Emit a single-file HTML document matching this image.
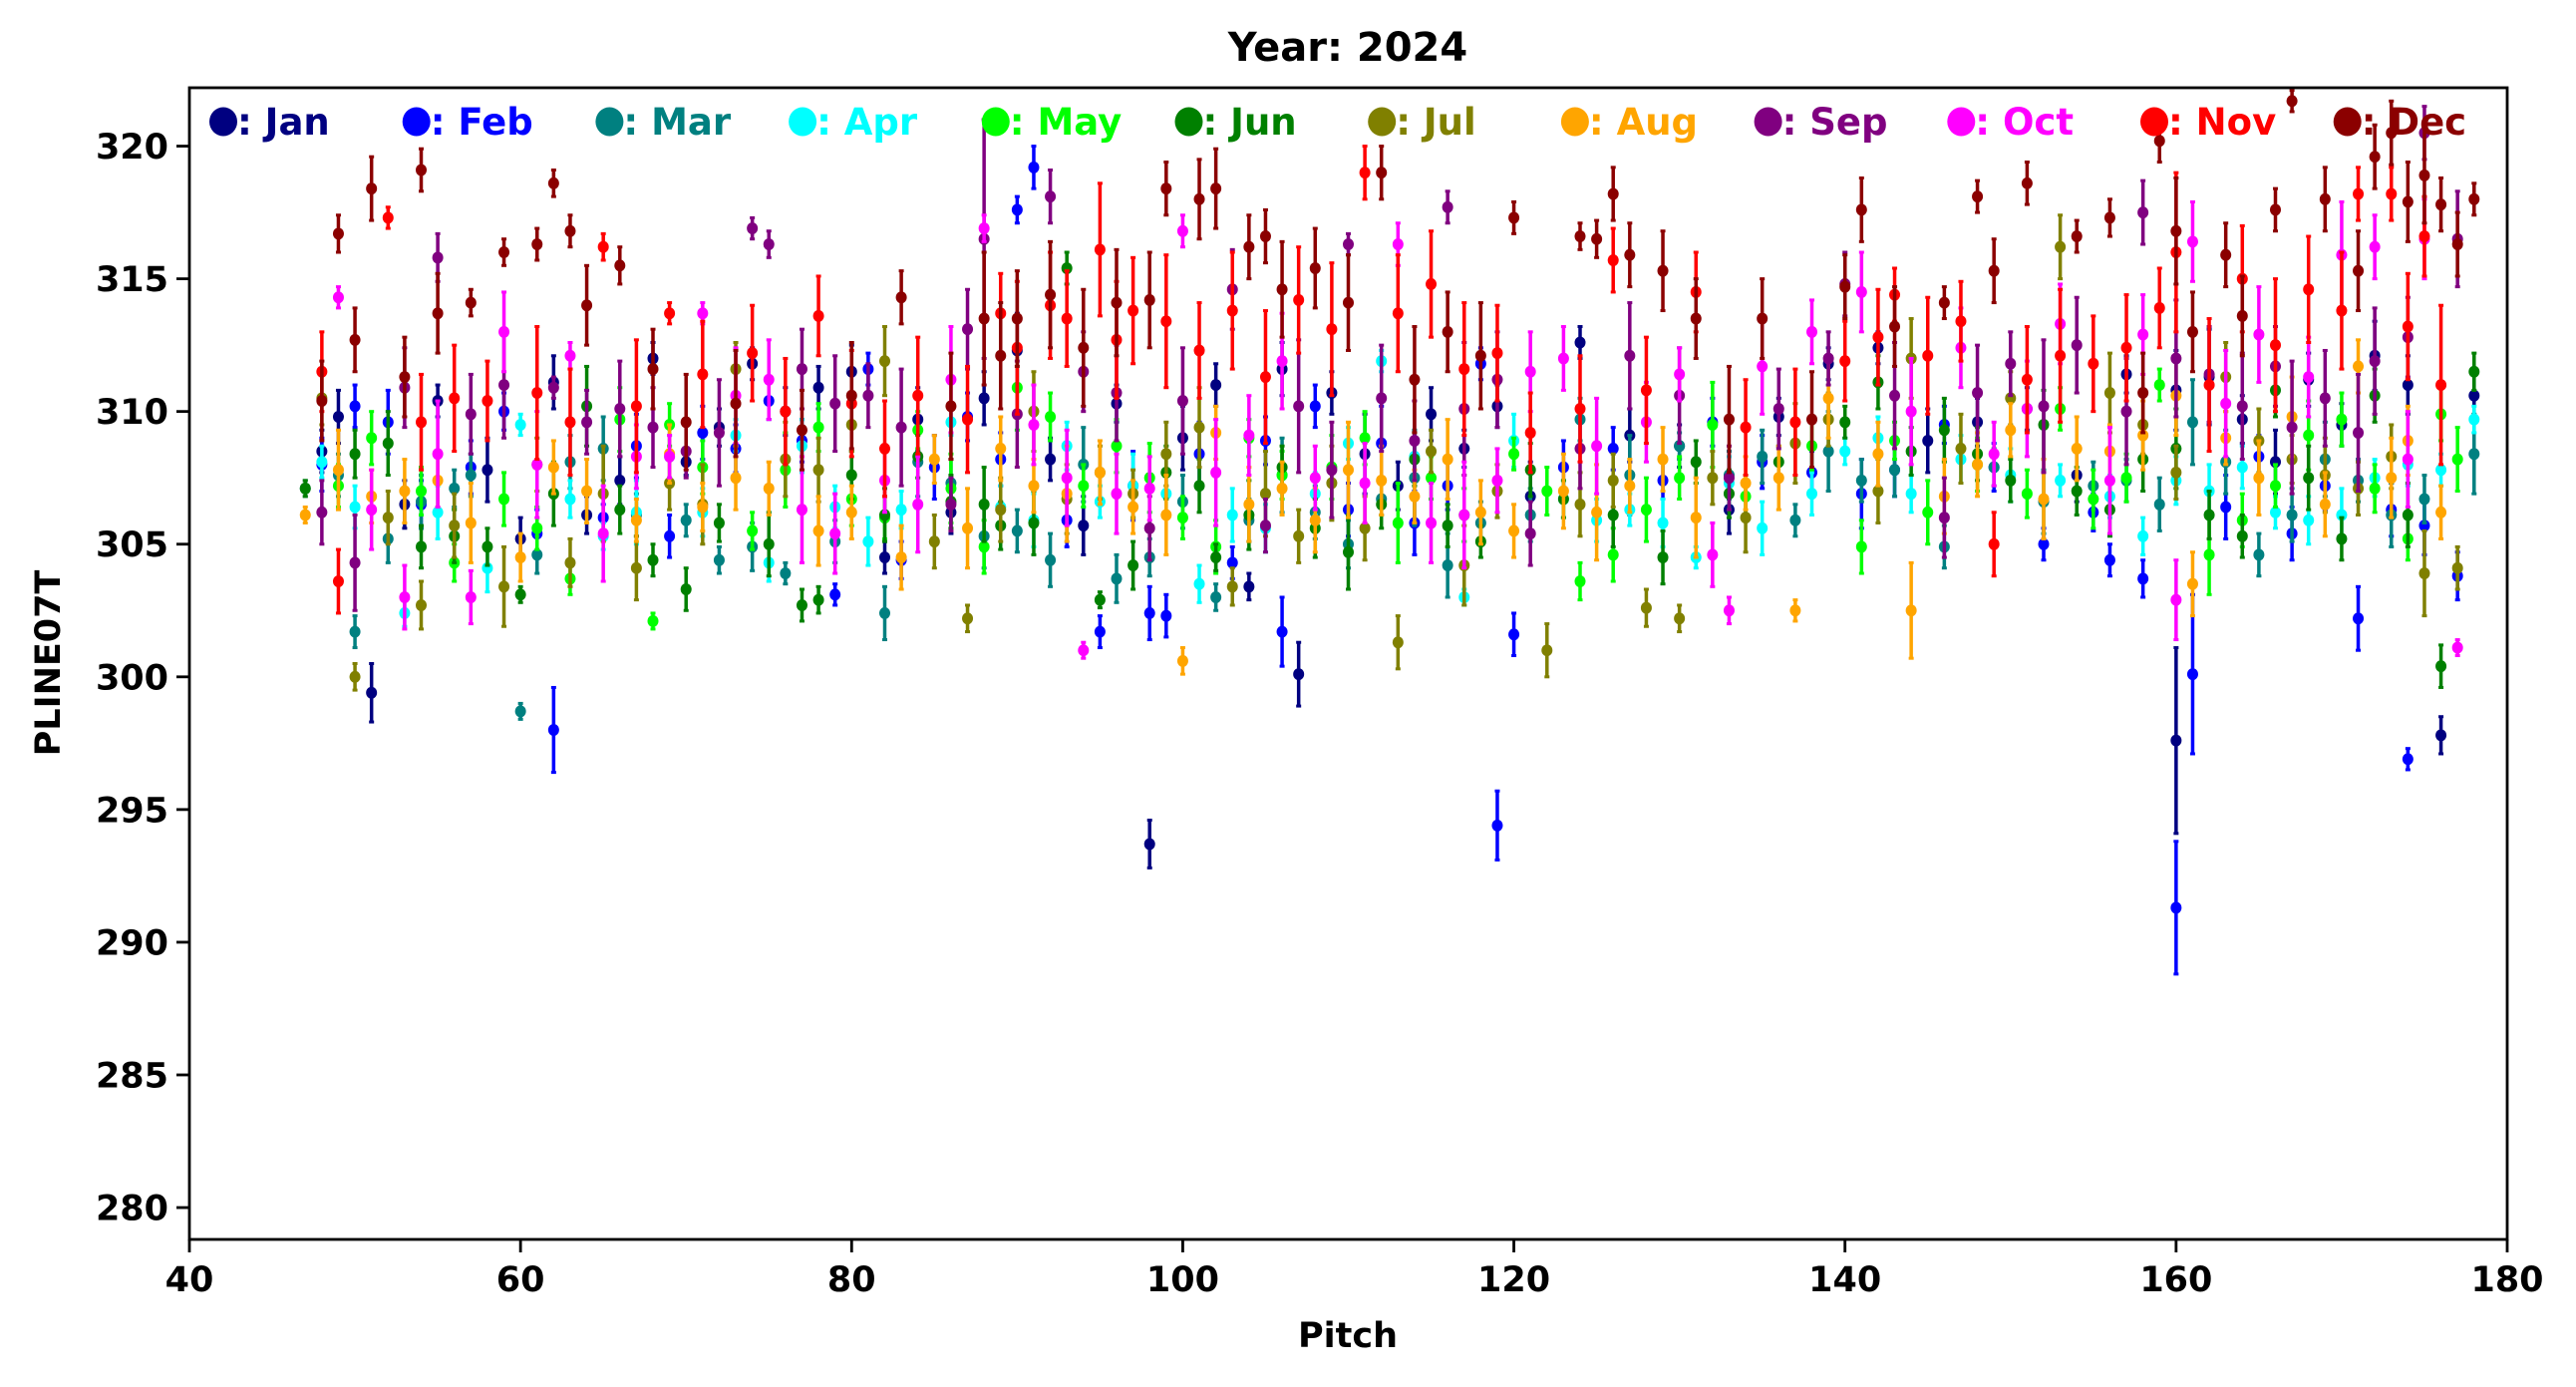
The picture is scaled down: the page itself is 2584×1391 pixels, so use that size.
<!DOCTYPE html>
<html><head><meta charset="utf-8">
<style>
html,body{margin:0;padding:0;background:#fff;}
svg{display:block;font-family:"DejaVu Sans","Liberation Sans",sans-serif;font-weight:bold;}
</style></head>
<body>
<svg id="chart" width="2584" height="1391" viewBox="0 0 2584 1391" xmlns="http://www.w3.org/2000/svg">
<rect x="0" y="0" width="2584" height="1391" fill="#fff"/>
<text x="1352" y="61" text-anchor="middle" font-size="40">Year: 2024</text>
<g id="marks"></g>
<g id="axes"></g>
<g id="legend"></g>
<text x="1352" y="1351" text-anchor="middle" font-size="35">Pitch</text>
<text transform="translate(60,665) rotate(-90)" text-anchor="middle" font-size="35">PLINE07T</text>
</svg>
<script>
const months=["Jan","Feb","Mar","Apr","May","Jun","Jul","Aug","Sep","Oct","Nov","Dec"];
const colors=["#000080","#0000ff","#008080","#00ffff","#00ff00","#008000","#808000","#ffa500","#800080","#ff00ff","#ff0000","#8b0000"];
const xTicks=[40,60,80,100,120,140,160,180];
const yTicks=[280,285,290,295,300,305,310,315,320];

const janX=[48,49,51,53,55,58,60,62,64,66,68,70,72,74,76,78,80,82,84,86,88,90,92,94,96,98,100,102,104,106,107,109,111,113,115,117,119,121,124,127,130,133,136,139,142,145,148,151,154,157,160,160,162,164,166,168,170,172,174,176,178];
const janY=[308.5,309.8,299.4,306.5,310.4,307.8,305.2,311.1,306.1,307.4,312.0,308.1,309.4,311.8,310.0,310.9,311.5,304.5,309.7,306.2,310.5,312.3,308.2,305.7,310.3,293.7,309.0,311.0,303.4,311.6,300.1,310.7,308.4,307.2,309.9,308.6,310.2,306.8,312.6,309.1,308.7,306.3,309.8,311.8,312.4,308.9,309.6,310.1,307.6,311.4,297.6,310.8,311.3,309.7,308.1,311.2,309.5,312.1,311.0,297.8,310.6];
const janE=[0.8,1.0,1.1,0.9,0.6,1.2,0.8,1.0,0.7,0.9,0.6,0.5,0.7,0.6,0.9,0.8,1.0,0.6,1.2,0.8,1.0,1.4,0.8,1.1,0.7,0.9,1.2,0.8,0.5,1.0,1.2,0.8,1.5,0.9,1.0,0.7,0.8,1.3,0.6,1.0,0.8,0.9,0.7,0.6,0.6,1.2,0.9,0.8,1.0,0.7,3.5,1.5,1.8,0.9,1.2,1.0,0.8,1.3,1.1,0.7,0.8];
const febX=[48,50,52,54,57,59,61,62,65,67,69,71,73,75,77,79,81,83,85,87,89,90,91,93,95,97,98,99,101,103,105,106,108,110,112,114,116,118,119,120,123,126,129,132,135,138,141,143,146,149,152,155,156,158,160,161,163,165,167,169,171,173,174,175,177];
const febY=[308.0,310.2,309.6,306.5,307.9,310.0,305.4,298.0,306.0,308.7,305.3,309.2,308.6,310.4,308.9,303.1,311.6,304.4,307.9,309.8,308.2,317.6,319.2,305.9,301.7,307.2,302.4,302.3,308.4,304.3,308.9,301.7,310.2,306.3,308.8,305.8,307.2,311.8,294.4,301.6,307.9,308.6,307.4,309.6,308.1,307.7,306.9,307.8,309.5,307.9,305.0,306.2,304.4,303.7,291.3,300.1,306.4,308.3,305.4,307.2,302.2,306.3,296.9,305.7,303.8];
const febE=[1.0,0.8,1.2,0.9,1.0,0.7,0.9,1.6,0.5,1.2,0.8,1.0,0.9,0.7,0.8,0.4,0.6,0.7,1.2,0.9,1.0,0.5,0.8,1.0,0.6,1.3,1.0,0.8,1.2,0.6,0.9,1.3,0.8,1.0,1.4,1.2,0.9,0.6,1.3,0.8,1.0,0.8,0.7,0.9,1.0,0.8,1.3,1.0,0.7,0.9,0.6,0.7,0.6,0.7,2.5,3.0,1.2,0.8,1.0,0.9,1.2,1.0,0.4,1.1,0.9];
const marX=[47,49,50,52,54,56,57,60,61,63,65,67,70,72,74,76,79,82,84,86,88,90,92,94,96,98,100,102,104,106,108,110,112,114,116,118,121,124,127,130,133,135,137,139,141,143,146,149,152,155,157,159,161,163,165,167,169,171,173,175,178];
const marY=[307.1,307.6,301.7,305.2,306.6,307.1,307.6,298.7,304.6,308.1,308.6,306.1,305.9,304.4,304.9,303.9,305.1,302.4,308.1,307.3,305.3,305.5,304.4,308.0,303.7,304.5,306.6,303.0,305.9,307.6,306.2,305.0,306.7,307.5,304.2,305.8,306.1,309.7,307.6,308.7,307.6,308.3,305.9,308.5,307.4,307.8,304.9,307.9,306.6,307.2,307.4,306.5,309.6,308.1,304.6,306.1,308.2,307.4,306.1,306.7,308.4];
const marE=[0.3,0.8,0.6,0.9,1.0,0.7,0.8,0.3,0.7,1.0,1.2,0.8,0.6,0.5,0.9,0.4,0.8,1.0,1.3,0.9,1.2,0.8,1.0,1.4,0.9,0.7,1.0,0.5,0.8,1.4,1.0,0.9,0.6,1.8,1.2,0.8,1.0,0.8,1.5,0.5,0.9,1.0,0.6,1.5,0.8,1.0,0.8,0.7,1.2,0.9,0.8,1.0,1.6,1.2,0.8,1.0,1.4,0.8,1.2,0.9,1.5];
const aprX=[48,50,53,55,58,60,63,65,67,69,71,73,75,77,79,81,83,86,89,91,93,95,97,99,101,103,105,108,110,112,114,117,120,123,125,127,129,131,133,135,138,140,142,144,147,150,153,156,158,160,162,164,166,168,170,172,174,176,178];
const aprY=[308.1,306.4,302.4,306.2,304.1,309.5,306.7,305.3,306.2,308.3,306.2,309.1,304.3,308.7,306.4,305.1,306.3,309.6,306.4,305.9,308.7,306.6,307.2,306.9,303.5,306.1,305.6,306.9,308.8,311.9,308.3,303.0,308.9,306.7,305.9,306.3,305.8,304.5,307.3,305.6,306.9,308.5,309.0,306.9,308.2,307.6,307.4,306.8,305.3,307.4,307.0,307.9,306.2,305.9,306.1,307.5,308.0,307.8,309.7];
const aprE=[0.6,0.8,0.5,1.0,0.9,0.4,0.7,0.5,1.2,0.8,0.9,0.6,0.7,1.0,0.8,0.9,0.7,0.5,0.8,1.0,0.9,0.6,1.2,0.8,0.7,1.0,0.9,0.8,0.6,0.4,0.9,0.3,1.0,0.7,0.8,0.6,0.9,0.4,1.0,1.0,0.8,0.5,0.8,0.7,0.9,1.0,0.6,0.8,0.7,0.9,1.0,0.8,0.6,0.9,1.0,0.7,0.8,0.6,0.5];
const mayX=[49,51,54,56,59,61,63,66,68,69,71,74,76,78,80,82,84,86,88,90,92,94,96,98,100,102,104,106,109,111,113,115,117,120,122,124,126,128,130,132,134,138,141,143,145,148,151,153,155,157,159,162,164,166,168,170,172,174,176,177];
const mayY=[307.2,309.0,307.0,304.3,306.7,305.6,303.7,309.7,302.1,309.5,307.9,305.5,307.8,309.4,306.7,306.0,309.3,307.1,304.9,310.9,309.8,307.2,308.7,307.5,306.0,304.9,309.0,307.6,307.9,309.0,305.8,307.5,306.1,308.4,307.0,303.6,304.6,306.3,307.5,309.5,306.8,308.7,304.9,308.9,306.2,308.0,306.9,310.1,306.7,307.5,311.0,304.6,305.9,307.2,309.1,309.7,307.1,305.2,309.9,308.2];
const mayE=[0.8,1.0,0.9,0.7,1.0,0.8,0.6,1.2,0.3,0.8,1.0,0.7,1.4,0.9,1.0,0.8,0.7,1.3,1.0,1.6,0.9,0.8,1.0,1.3,0.8,1.0,0.7,0.9,1.2,1.0,1.5,0.8,1.0,0.6,0.9,0.7,1.0,1.2,0.8,1.6,0.8,0.9,1.0,0.7,1.2,1.0,0.9,0.8,1.1,0.9,0.6,1.5,1.0,0.8,1.3,1.0,0.9,0.8,1.0,1.2];
const junX=[47,50,52,54,56,58,60,62,64,66,68,70,72,75,77,78,80,82,84,86,88,89,91,93,95,97,99,101,102,104,106,108,110,112,114,116,118,121,123,126,129,131,133,136,140,142,144,146,148,150,152,154,156,158,160,162,164,166,168,170,172,174,176,178];
const junY=[307.1,308.4,308.8,304.9,305.3,304.9,303.1,306.9,310.2,306.3,304.4,303.3,305.8,305.0,302.7,302.9,307.6,306.1,308.3,306.6,306.5,305.7,305.8,315.4,302.9,304.2,307.7,307.2,304.5,306.1,307.9,305.6,304.7,306.5,308.2,305.7,305.1,307.8,306.7,306.1,304.5,308.1,306.9,308.1,309.6,311.1,308.5,309.3,308.4,307.4,309.5,307.0,306.3,308.2,308.6,306.1,305.3,310.8,307.5,305.2,310.6,306.1,300.4,311.5];
const junE=[0.3,0.9,1.2,0.8,1.0,0.7,0.3,1.2,1.5,0.9,0.6,0.8,0.7,1.2,0.6,0.5,0.9,1.0,0.8,1.0,1.4,0.9,1.2,0.6,0.3,0.9,1.0,1.0,0.5,1.3,0.8,1.1,1.4,0.9,1.0,0.8,0.6,1.0,0.7,1.2,1.0,0.8,0.9,0.6,0.6,1.0,0.9,1.2,1.0,0.8,1.3,0.9,1.0,1.2,1.5,0.9,0.8,1.0,1.2,0.8,1.0,1.2,0.8,0.7];
const julX=[48,50,52,54,56,59,61,63,65,67,69,71,73,76,78,80,82,85,87,89,91,93,95,97,99,101,103,105,107,109,111,113,115,117,119,122,124,126,128,130,132,134,137,139,142,144,147,150,153,156,158,160,163,165,167,169,171,173,175,177];
const julY=[310.5,300.0,306.0,302.7,305.7,303.4,308.0,304.3,306.9,304.1,307.3,306.5,311.6,308.2,307.8,309.5,311.9,305.1,302.2,306.3,310.0,306.7,307.7,306.9,308.4,309.4,303.4,306.9,305.3,307.3,305.6,301.3,308.5,304.2,307.0,301.0,306.5,307.4,302.6,302.2,307.5,306.0,308.8,309.7,307.0,312.0,308.6,310.5,316.2,310.7,309.5,307.7,311.3,308.9,308.2,307.6,307.1,308.3,303.9,304.1];
const julE=[1.0,0.5,1.0,0.9,1.2,1.5,1.0,0.9,1.8,1.2,1.0,1.5,1.0,1.4,1.2,1.0,1.3,1.0,0.5,1.2,1.5,1.3,1.0,0.9,1.2,1.5,0.7,1.6,1.0,1.4,1.2,1.0,0.8,1.5,1.0,1.0,1.2,1.0,0.7,0.5,1.0,1.3,1.5,1.0,1.2,1.5,1.3,1.0,1.2,1.5,1.1,1.0,1.3,1.2,0.9,1.4,1.0,1.2,1.6,0.8];
const augX=[47,49,51,53,55,57,60,62,64,67,69,71,73,75,78,80,83,85,87,89,91,93,95,97,99,100,102,104,106,108,110,112,114,116,118,120,123,125,127,129,131,134,136,137,139,142,144,146,148,150,152,154,156,158,160,161,163,165,167,169,171,173,174,176];
const augY=[306.1,307.8,306.8,307.0,307.4,305.8,304.5,307.9,307.0,305.9,308.4,306.4,307.5,307.1,305.5,306.2,304.5,308.2,305.6,308.6,307.2,306.9,307.7,306.4,306.1,300.6,309.2,306.5,307.1,305.9,307.8,307.4,306.8,308.2,306.2,305.5,307.0,306.2,307.2,308.2,306.0,307.3,307.5,302.5,310.5,308.4,302.5,306.8,308.0,309.3,306.7,308.6,308.5,309.1,310.6,303.5,309.0,307.5,309.8,306.5,311.7,307.5,308.9,306.2];
const augE=[0.3,1.5,1.0,1.2,1.0,1.5,0.9,1.0,1.2,0.8,1.1,0.9,1.2,1.0,1.3,1.0,1.2,0.9,1.5,1.2,1.0,1.8,1.2,1.0,1.5,0.5,1.0,1.4,1.0,1.2,1.8,1.3,1.0,1.5,1.2,1.0,1.4,1.8,1.0,1.2,1.5,1.0,1.2,0.4,1.5,1.2,1.8,1.4,1.2,1.0,1.5,1.2,1.0,1.3,1.5,1.2,1.0,1.4,1.5,1.2,1.0,1.5,1.3,1.0];
const sepX=[48,50,53,55,57,59,62,64,66,68,70,72,74,75,77,79,81,83,86,87,88,90,92,94,96,98,100,103,105,107,109,110,112,114,116,117,119,121,124,127,130,133,136,139,140,143,146,148,150,152,154,157,158,160,162,164,166,167,169,171,172,174,175,177];
const sepY=[306.2,304.3,310.9,315.8,309.9,311.0,310.9,309.6,310.1,309.4,308.5,309.2,316.9,316.3,311.6,310.3,310.6,309.4,306.5,313.1,316.5,309.9,318.1,311.5,310.7,305.6,310.4,314.6,305.7,310.2,307.8,316.3,310.5,308.9,317.7,310.1,311.2,305.4,308.6,312.1,310.6,307.5,310.1,312.0,314.8,310.6,306.0,310.7,311.8,310.2,312.5,310.0,317.5,312.0,311.4,310.2,311.7,309.4,310.5,309.2,311.9,312.8,320.5,316.5];
const sepE=[1.2,1.8,1.5,0.9,1.5,2.0,0.4,1.2,1.8,1.5,1.0,2.0,0.4,0.5,1.5,1.8,1.2,2.2,1.0,1.5,4.5,2.0,1.0,1.5,1.8,1.2,2.0,1.5,1.0,2.5,1.8,0.4,2.0,1.5,0.6,2.5,1.8,1.2,1.5,2.0,1.8,1.2,1.5,1.0,1.2,2.0,1.5,1.8,1.2,2.5,1.8,2.0,1.2,2.2,1.8,2.0,1.5,2.5,1.8,2.2,2.0,1.5,1.0,1.8];
const octX=[49,51,53,55,57,59,61,63,65,67,69,71,73,75,77,79,82,84,86,88,91,93,94,96,98,100,102,104,106,108,111,113,115,117,119,121,123,125,128,130,132,133,135,138,141,144,147,149,151,153,156,158,160,161,163,165,168,170,172,174,175,177];
const octY=[314.3,306.3,303.0,308.4,303.0,313.0,308.0,312.1,305.4,308.3,308.3,313.7,310.6,311.2,306.3,305.4,307.4,306.5,311.2,316.9,309.5,307.5,301.0,306.9,307.1,316.8,307.7,309.1,311.9,307.5,307.3,316.3,305.8,306.1,307.4,311.5,312.0,308.7,309.6,311.4,304.6,302.5,311.7,313.0,314.5,310.0,312.4,308.4,310.1,313.3,307.4,312.9,302.9,316.4,310.3,312.9,311.3,315.9,316.2,308.2,316.5,301.1];
const octE=[0.4,1.5,1.2,2.0,1.0,1.5,2.0,0.5,1.8,1.2,0.8,0.4,1.8,1.5,2.0,1.5,1.2,1.8,2.0,0.5,1.5,1.8,0.3,1.5,1.2,0.6,2.0,1.5,1.8,1.2,1.5,0.8,1.5,2.0,1.2,1.5,1.2,1.8,1.5,1.0,1.2,0.5,1.8,1.2,1.5,2.0,1.5,1.2,1.8,1.5,2.0,1.5,1.5,1.5,2.0,1.8,1.5,2.0,1.2,1.8,1.5,0.3];
const novX=[48,49,52,54,56,58,61,63,65,67,69,71,74,76,78,80,82,84,87,89,90,92,93,95,96,97,99,101,103,105,107,109,111,113,115,117,119,121,124,126,128,131,134,137,140,142,143,145,147,149,151,153,155,157,159,160,162,164,166,168,170,171,173,174,175,176];
const novY=[311.5,303.6,317.3,309.6,310.5,310.4,310.7,309.6,316.2,310.2,313.7,311.4,312.2,310.0,313.6,310.3,308.6,310.6,309.7,313.7,312.4,314.0,313.5,316.1,312.7,313.8,313.4,312.3,313.8,311.3,314.2,313.1,319.0,313.7,314.8,311.6,312.2,309.2,310.1,315.7,310.8,314.5,309.4,309.6,311.9,312.8,314.4,312.1,313.4,305.0,311.2,312.1,311.8,312.4,313.9,316.0,311.0,315.0,312.5,314.6,313.8,318.2,318.2,313.2,316.6,311.0];
const novE=[1.5,1.2,0.4,1.8,2.0,1.5,2.5,2.0,0.5,2.5,0.4,2.0,1.8,2.0,1.5,2.0,1.8,2.2,2.0,1.5,2.5,2.0,1.8,2.5,2.2,2.0,2.5,1.8,2.2,2.5,2.0,2.5,1.0,2.2,2.0,2.5,1.8,1.5,2.0,1.2,2.0,1.5,1.8,2.0,1.5,1.8,1.0,2.2,1.5,1.2,2.0,2.5,1.8,2.0,1.5,3.0,2.5,2.0,2.5,2.0,2.2,1.0,1.0,2.0,1.5,3.0];
const decX=[48,49,50,51,53,54,55,57,59,61,62,63,64,66,68,70,73,77,80,83,86,88,89,90,92,94,96,98,99,101,102,104,105,106,108,110,112,114,116,118,120,124,125,126,127,129,131,133,135,138,140,141,143,146,148,149,151,154,156,158,159,160,161,163,164,166,167,169,171,172,173,174,175,176,177,178];
const decY=[310.4,316.7,312.7,318.4,311.3,319.1,313.7,314.1,316.0,316.3,318.6,316.8,314.0,315.5,311.6,309.6,310.3,309.3,310.6,314.3,310.2,313.5,312.1,313.5,314.4,312.4,314.1,314.2,318.4,318.0,318.4,316.2,316.6,314.6,315.4,314.1,319.0,311.2,313.0,312.1,317.3,316.6,316.5,318.2,315.9,315.3,313.5,309.7,313.5,309.7,314.7,317.6,313.2,314.1,318.1,315.3,318.6,316.6,317.3,310.7,320.2,316.8,313.0,315.9,313.6,317.6,321.7,318.0,315.3,319.6,320.5,317.9,318.9,317.8,316.3,318.0];
const decE=[1.5,0.7,1.2,1.2,1.5,0.8,1.5,0.5,0.5,0.6,0.5,0.6,1.5,0.7,1.5,1.8,2.0,1.5,2.0,1.0,2.0,2.5,2.0,1.8,2.0,2.2,2.0,1.8,1.0,1.5,1.5,1.2,1.0,1.8,1.5,1.8,1.0,2.0,1.5,2.0,0.6,0.5,0.7,1.0,1.2,1.5,1.5,2.0,1.5,1.8,1.2,1.2,1.5,0.6,0.6,1.2,0.8,0.6,0.7,1.5,0.8,2.0,1.5,1.2,1.5,0.8,0.4,1.2,1.5,1.2,1.2,1.5,1.8,1.0,1.2,0.6];

const seriesX=[janX,febX,marX,aprX,mayX,junX,julX,augX,sepX,octX,novX,decX];
const seriesY=[janY,febY,marY,aprY,mayY,junY,julY,augY,sepY,octY,novY,decY];
const seriesE=[janE,febE,marE,aprE,mayE,junE,julE,augE,sepE,octE,novE,decE];

const L=190,R=2515,T=88,B=1243;
const X0=40,X1=180,Y0=278.8,Y1=322.2;
function xs(v){return L+(v-X0)/(X1-X0)*(R-L);}
function ys(v){return B-(v-Y0)/(Y1-Y0)*(B-T);}
const NS="http://www.w3.org/2000/svg";
function mk(tag,attrs,parent){const el=document.createElementNS(NS,tag);for(const k in attrs)el.setAttribute(k,attrs[k]);parent.appendChild(el);return el;}

const marks=document.getElementById('marks');
seriesX.forEach((xArr,m)=>{
  const g=mk('g',{},marks);
  
  
  xArr.forEach((xv,i)=>{
    const yv=seriesY[m][i]; if(yv===undefined) return;
    const e=seriesE[m][i]!==undefined?seriesE[m][i]:1.0;
    const cx=xs(xv),cy=ys(yv),y1=ys(yv+e),y2=ys(yv-e);
    const ln=mk('line',{x1:cx,x2:cx,y1:y1,y2:y2,stroke:colors[m],'stroke-width':3.5},g);
    
    
    const c1=mk('line',{x1:cx-2.5,x2:cx+2.5,y1:y1,y2:y1,stroke:colors[m],'stroke-width':3},g);
    
    
    const c2=mk('line',{x1:cx-2.5,x2:cx+2.5,y1:y2,y2:y2,stroke:colors[m],'stroke-width':3},g);
    
    
    const p=mk('ellipse',{cx:cx,cy:cy,rx:5.5,ry:6,fill:colors[m]},g);
    
    
  });
});

const axes=document.getElementById('axes');
const frame=mk('rect',{x:L,y:T,width:R-L,height:B-T,fill:'none',stroke:'#000','stroke-width':2.8},axes);


xTicks.forEach(t=>{
  const x=xs(t);
  const tk=mk('line',{x1:x,x2:x,y1:B,y2:B+13,stroke:'#000','stroke-width':2.8},axes);
  
  
  const tx=mk('text',{x:x,y:B+52,'text-anchor':'middle','font-size':35},axes);
  tx.textContent=t;
  
  
});
yTicks.forEach(t=>{
  const y=ys(t);
  const tk=mk('line',{x1:L-13,x2:L,y1:y,y2:y,stroke:'#000','stroke-width':2.8},axes);
  
  
  const tx=mk('text',{x:L-21,y:y+12.5,'text-anchor':'end','font-size':35},axes);
  tx.textContent=t;
  
  
});

const legend=document.getElementById('legend');
months.forEach((mn,m)=>{
  const cx=224+m*193.7;
  const g=mk('g',{},legend);
  
  
  mk('ellipse',{cx:cx,cy:122,rx:14,ry:14.5,fill:colors[m]},g);
  const t=mk('text',{x:cx+14,y:135,'font-size':37,fill:colors[m]},g);
  t.textContent=': '+mn;
});
</script>
</body></html>
